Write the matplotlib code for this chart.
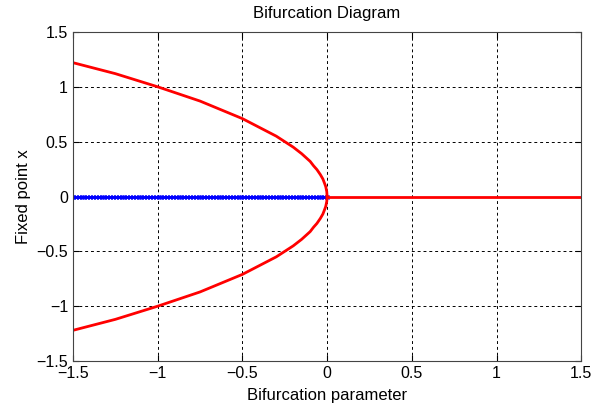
import matplotlib
matplotlib.use("Agg")
import matplotlib.pyplot as plt
import numpy as np

plt.rcParams['font.family'] = ['Liberation Sans', 'DejaVu Sans']

# upper / lower branches
r_branch = [-1.5, -1.375, -1.25, -1.125, -1.0, -0.875, -0.75, -0.625, -0.5, -0.4,
            -0.3, -0.2, -0.15, -0.1, -0.08, -0.06, -0.04, -0.025, -0.015, -0.008,
            -0.004, -0.002, 0.0]
x_upper = [1.22, 1.17, 1.12, 1.06, 1.0, 0.935, 0.87, 0.79, 0.71, 0.63,
           0.55, 0.45, 0.39, 0.32, 0.28, 0.245, 0.2, 0.16, 0.12, 0.09,
           0.06, 0.045, 0.0]
x_lower = [-1.22, -1.17, -1.12, -1.06, -1.0, -0.935, -0.87, -0.79, -0.71, -0.63,
           -0.55, -0.45, -0.39, -0.32, -0.28, -0.245, -0.2, -0.16, -0.12, -0.09,
           -0.06, -0.045, 0.0]

# zero branch
r_right = [0.0, 1.5]
x_right = [0.0, 0.0]
r_left = np.linspace(-1.5, 0, 90)
x_left = np.zeros_like(r_left)

fig = plt.figure(figsize=(5.98, 4.15), dpi=100)
ax = fig.add_axes([0.122, 0.130, 0.850, 0.793])

ax.plot(r_left, x_left, color='blue', lw=1.5, marker='x', ms=3, mew=1)
ax.plot(r_branch, x_upper, color='red', lw=2)
ax.plot(r_branch, x_lower, color='red', lw=2)
ax.plot(r_right, x_right, color='red', lw=2)

ax.set_xlim(-1.5, 1.5)
ax.set_ylim(-1.5, 1.5)
ticks = [-1.5, -1, -0.5, 0, 0.5, 1, 1.5]
labels = ['\u22121.5', '\u22121', '\u22120.5', '0', '0.5', '1', '1.5']
ax.set_xticks(ticks)
ax.set_xticklabels(labels)
ax.set_yticks(ticks)
ax.set_yticklabels(labels)
ax.tick_params(direction='in', top=True, right=True, labelsize=11.5, length=4)
ax.grid(True, color='black', linestyle=(0, (3, 3)), linewidth=0.7)
for s in ax.spines.values():
    s.set_color('#444444')

ax.set_title("Bifurcation Diagram", fontsize=12, pad=10)
ax.set_xlabel("Bifurcation parameter", fontsize=12, labelpad=5)
ax.set_ylabel("Fixed point x", fontsize=12)

fig.savefig("out.png", dpi=100)
